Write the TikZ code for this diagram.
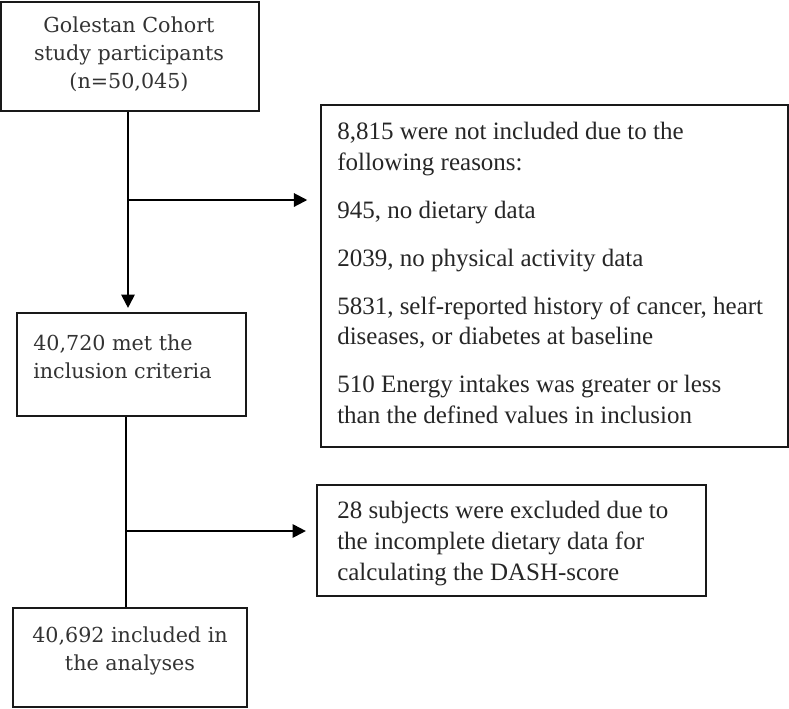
\documentclass[tikz,border=0pt]{standalone}
\usepackage{fontspec}
\setmainfont{Liberation Serif}
\newfontfamily\geofont{DejaVu Serif}
\usetikzlibrary{arrows.meta,fit}
\begin{document}
\begin{tikzpicture}[x=0.75pt,y=-0.75pt,
  box/.style={draw=black!90, line width=1.6pt, inner sep=0pt, rectangle},
  geotxt/.style={font=\geofont\fontsize{15.5}{21}\selectfont, inner sep=0pt, text=black!80},
  timtxt/.style={font=\fontsize{18.75}{22.9}\selectfont, inner sep=0pt, text=black!85, align=left},
  link/.style={line width=1.5pt, draw=black},
  arr/.style={link, -{Triangle[length=10pt,width=10pt]}}]
\useasboundingbox (0,0) rectangle (789,708);
% boxes
\node[box, fit={(1,2) (259,111)}] (b1) {};
\node[box, fit={(17,313) (246,416)}] (b2) {};
\node[box, fit={(321,105) (788,447)}] (b3) {};
\node[box, fit={(317,485) (706,596)}] (b4) {};
\node[box, fit={(13,608) (247,707)}] (b5) {};
% texts (anchored at the baseline of their last line)
\node[geotxt, align=center, anchor=base] (t1) at (129,88) {Golestan Cohort\\study participants\\(n=50,045)};
\node[geotxt, align=left, anchor=base west] (t2) at (33,378) {40,720 met the\\inclusion criteria};
\node[geotxt, align=center, anchor=base] (t5) at (130,670) {40,692 included in\\the analyses};
\node[timtxt, anchor=base west] (t3) at (337,423) {8,815 were not included due to the\\following reasons:\\[13pt]
945, no dietary data\\[13pt]
2039, no physical activity data\\[13pt]
5831, self-reported history of cancer, heart\\diseases, or diabetes at baseline\\[13pt]
510 Energy intakes was greater or less\\than the defined values in inclusion};
\node[timtxt, anchor=base west] (t4) at (337,580) {28 subjects were excluded due to\\the incomplete dietary data for\\calculating the DASH-score};
% connectors
\coordinate (colA) at (128,0);
\coordinate (colB) at (126,0);
\coordinate (j1) at (128,200);
\coordinate (j2) at (126,531);
\draw[arr, shorten >=3pt] (b1.south -| colA) -- (b2.north -| colA);
\draw[arr, shorten >=9.5pt] (j1) -- (j1 -| b3.west);
\draw[link] (b2.south -| colB) -- (b5.north -| colB);
\draw[arr, shorten >=7.5pt] (j2) -- (j2 -| b4.west);
\end{tikzpicture}
\end{document}
